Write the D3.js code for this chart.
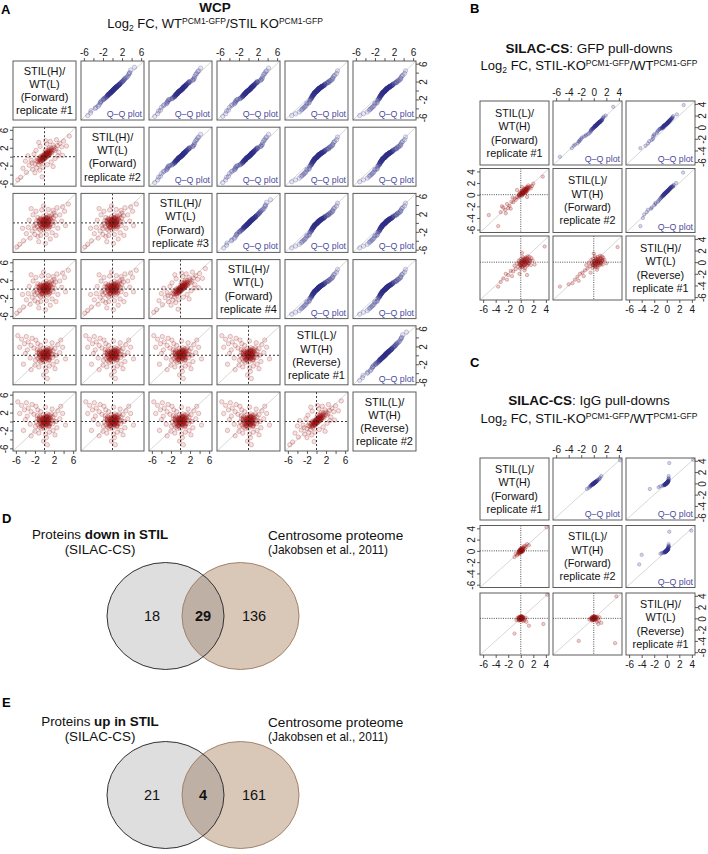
<!DOCTYPE html>
<html>
<head>
<meta charset="utf-8">
<script src="https://cdn.jsdelivr.net/npm/d3@7"></script>
<style>
  body { margin: 0; background: #fff; }
  svg { display: block; }
  text { font-family: "Liberation Sans", Arial, Helvetica, sans-serif; }
</style>
</head>
<body>
<svg id="fig" width="708" height="854"></svg>
<script>
// ---- panel A (WCP) ----
const wcpLabels = [
  ["STIL(H)/", "WT(L)", "(Forward)", "replicate #1"],
  ["STIL(H)/", "WT(L)", "(Forward)", "replicate #2"],
  ["STIL(H)/", "WT(L)", "(Forward)", "replicate #3"],
  ["STIL(H)/", "WT(L)", "(Forward)", "replicate #4"],
  ["STIL(L)/", "WT(H)", "(Reverse)", "replicate #1"],
  ["STIL(L)/", "WT(H)", "(Reverse)", "replicate #2"]
];
const wcpTicks = [-6, -4, -2, 0, 2, 4, 6];
const wcpTickLabels = [-6, -2, 2, 6];

// log2 FC read off the scatter clouds (x = column replicate, y = row replicate)
// dense centre of the clouds
const wcpCoreRound = [
  [0.1,0.2],[-0.3,-0.1],[0.5,0.3],[-0.6,0.4],[0.2,-0.5],[0.8,-0.1],[-0.1,0.7],[-0.8,-0.6],[0.4,0.9],[0.9,0.5],
  [-0.4,-0.8],[0.0,-0.2],[0.6,-0.7],[-0.9,0.1],[0.3,0.0],[-0.2,0.4],[1.1,0.2],[-0.5,-0.3],[0.7,1.0],[0.0,0.9],
  [-1.0,-0.3],[0.2,0.6],[0.5,-0.3],[-0.7,0.8],[1.0,-0.5],[-0.2,-1.0],[0.4,0.4],[-0.4,0.1],[0.8,0.8],[0.1,-0.8],
  [-0.6,-1.0],[1.2,0.7],[-1.1,0.5],[0.6,0.1],[-0.1,-0.5],[0.3,1.2],[0.9,-0.9],[-0.3,0.6],[0.0,0.4],[0.7,-0.4]
];
const wcpCoreDiag = [
  [0.1,0.2],[-0.3,-0.4],[0.5,0.6],[-0.6,-0.3],[0.2,-0.1],[0.8,0.9],[-0.1,0.3],[-0.8,-0.9],[0.4,0.8],[0.9,0.6],
  [-0.4,-0.7],[0.0,-0.2],[0.6,0.2],[-0.9,-0.5],[0.3,0.3],[-0.2,0.1],[1.1,1.2],[-0.5,-0.1],[0.7,1.0],[0.0,0.5],
  [-1.0,-1.1],[0.2,0.6],[0.5,0.1],[-0.7,-0.2],[1.0,0.7],[-0.2,-0.6],[0.4,0.4],[-0.4,0.0],[0.8,0.5],[0.1,-0.4],
  [-0.6,-0.8],[1.3,1.0],[-1.2,-0.7],[0.6,0.7],[-0.1,-0.2],[1.4,1.5],[0.9,1.3],[-0.3,-0.1],[0.0,0.1],[1.2,0.9]
];
const wcpTight = wcpCoreDiag.concat([
  [-0.5,-0.3],[0.2,0.4],[0.8,0.9],[-1.0,-0.6],[1.3,1.5],[0.5,0.1],[-0.2,0.3],[1.6,1.2],[-1.4,-1.1],[0.0,-0.4],
  [0.9,1.6],[2.0,2.1],[-0.8,-1.4],[0.4,0.8],[1.1,0.6],[-0.3,-0.9],[-1.7,-0.9],[2.4,1.8],[0.6,1.3],[-0.6,0.2],
  [1.8,2.6],[-1.2,-1.8],[0.1,1.0],[1.5,0.8],[-0.1,-0.1],[0.7,0.4],[-0.9,0.0],[2.2,1.4],[1.0,2.0],[-2.0,-1.6],
  [0.3,-0.2],[1.4,1.9],[-0.4,-0.6],[0.8,0.2],[-1.5,-0.4],[2.7,2.5],[0.2,1.5],[-0.7,-1.0],[1.9,1.6],[0.5,0.6],
  [-2.5,-2.8],[-3.2,-1.9],[-3.8,-3.5],[-4.5,-2.6],[-5.0,-4.6],[-2.8,-0.8],[-2.2,0.6],[-1.8,1.4],[-3.5,0.2],[-0.9,2.3],
  [-1.2,3.2],[0.2,3.6],[0.5,2.8],[1.2,3.4],[2.5,3.8],[3.2,3.0],[3.6,2.2],[4.0,3.5],[3.0,1.0],[2.2,-0.4],
  [1.4,-1.2],[0.6,-1.8],[-0.3,-2.4],[-1.0,-3.0],[-2.0,-3.6],[-0.5,-4.5],[1.8,-2.2],[3.8,0.3],[4.6,2.4],[-4.0,-1.0],
  [-5.6,-5.2],[-1.6,-2.5],[2.8,0.2],[-2.6,-1.4],[5.2,4.6]
]);
const wcpLoose = wcpCoreRound.concat([
  [-0.3,0.1],[0.4,-0.2],[0.9,0.6],[-0.8,-0.5],[0.1,0.8],[-1.2,0.3],[1.3,-0.3],[0.6,1.2],[-0.5,-1.1],[0.0,0.0],
  [1.0,1.5],[-1.5,-0.8],[0.3,-0.9],[-0.9,1.0],[1.6,0.4],[-0.2,1.4],[0.7,-0.6],[-1.8,-0.2],[1.9,1.1],[-0.6,0.6],
  [0.2,0.3],[1.2,0.9],[-1.1,-1.4],[0.5,0.5],[-0.4,-0.4],[0.8,-1.3],[-1.4,1.2],[1.5,1.8],[-0.1,-1.6],[2.1,0.2],
  [-2.0,-1.2],[0.4,1.8],[1.1,-0.9],[-0.7,-0.1],[0.6,0.0],[-1.0,0.7],[1.8,-0.6],[-0.3,0.9],[0.9,0.2],[-1.6,0.5],
  [0.0,-0.6],[1.4,1.3],[-0.8,-1.7],[2.3,1.6],[0.3,1.1],
  [-2.6,-1.8],[-3.0,-3.4],[-3.8,-2.4],[-4.4,-4.0],[-5.2,-4.8],[-2.4,1.8],[-3.2,0.6],[-1.8,2.6],[-0.6,2.9],[0.8,3.0],
  [1.8,2.8],[2.6,3.4],[3.2,1.8],[3.6,0.4],[2.8,-1.2],[1.6,-2.2],[0.4,-2.6],[-0.8,-2.8],[-2.0,-2.6],[-1.2,-4.2],
  [0.2,-4.6],[4.2,2.6],[-4.6,-1.2],[-3.4,-1.0],[2.4,-2.8],[3.8,3.6],[-2.8,3.2],[5.0,4.2],[-0.2,3.8],[-5.8,-5.4],
  [1.2,-3.6],[4.4,-0.6],[-1.4,-3.0],[2.0,2.2],[-2.2,-0.6]
]);
const wcpRev = wcpCoreRound.concat([
  [-0.2,0.2],[0.5,-0.1],[0.8,0.7],[-0.7,-0.4],[0.2,0.9],[-1.1,0.4],[1.2,-0.4],[0.5,1.1],[-0.4,-1.0],[0.1,0.0],
  [0.9,1.4],[-1.4,-0.7],[0.4,-0.8],[-1.0,1.1],[1.5,0.3],[-0.3,1.5],[0.6,-0.5],[-1.7,-0.1],[1.8,1.0],[-0.5,0.5],
  [0.3,0.4],[1.1,0.8],[-1.0,-1.3],[0.6,0.4],[-0.3,-0.5],[0.9,-1.2],[-1.5,1.3],[1.4,1.7],[0.0,-1.5],[2.0,0.1],
  [-1.9,-1.1],[0.5,1.7],[1.0,-1.0],[-0.6,0.0],[0.7,0.1],[-1.1,0.8],[1.7,-0.5],[-0.2,1.0],[0.8,0.3],[-1.5,0.6],
  [0.1,-0.5],[1.3,1.2],[-0.7,-1.6],[2.2,1.5],[0.4,1.2],
  [-2.8,2.2],[-3.4,3.0],[-4.2,2.6],[-4.8,3.6],[-3.6,1.2],[-5.2,1.8],[-2.6,3.8],[-4.0,0.4],[-3.0,-0.6],[-5.6,4.4],
  [-2.2,1.6],[-3.8,4.2],[0.2,-2.8],[0.4,-3.6],[-0.2,-4.4],[0.6,-5.2],[1.8,-2.0],[2.6,-1.4],[3.2,0.6],[2.8,2.4],
  [1.6,2.8],[0.2,3.2],[-1.4,2.6],[-2.0,-2.2],[-2.8,-3.2],[-1.2,-2.6],[3.8,1.8],[4.4,-0.8],[2.2,-3.0],[-1.8,3.4],
  [1.0,-2.4],[-4.4,-2.0],[3.4,3.4],[-0.8,2.2],[2.4,0.0]
]);
// which cloud sits in each lower panel: [row, col, cloud]
const wcpPanels = [
  [1, 0, wcpTight],
  [2, 0, wcpLoose], [2, 1, wcpLoose],
  [3, 0, wcpLoose], [3, 1, wcpLoose], [3, 2, wcpTight],
  [4, 0, wcpRev], [4, 1, wcpRev], [4, 2, wcpRev], [4, 3, wcpRev],
  [5, 0, wcpRev], [5, 1, wcpRev], [5, 2, wcpRev], [5, 3, wcpRev], [5, 4, wcpTight]
];

// ---- panels B and C (SILAC-CS) ----
const silacTicks = [-6, -4, -2, 0, 2, 4];
const gfpLabels = [
  ["STIL(L)/", "WT(H)", "(Forward)", "replicate #1"],
  ["STIL(L)/", "WT(H)", "(Forward)", "replicate #2"],
  ["STIL(H)/", "WT(L)", "(Reverse)", "replicate #1"]
];
const iggLabels = gfpLabels;

const gfpCoreDiag = [
  [0.3,0.4],[0.6,0.6],[0.1,0.0],[0.9,0.8],[0.4,0.2],[0.7,0.9],[0.2,0.3],[1.0,1.1],[-0.1,-0.2],[0.5,0.5],
  [0.8,0.6],[0.3,0.1],[1.2,0.9],[0.0,0.2],[0.6,0.9],[0.4,0.6],[0.9,1.0],[-0.3,-0.2],[0.7,0.4],[0.2,0.5],
  [1.1,1.3],[0.5,0.3],[-0.2,0.0],[0.8,1.1],[0.3,0.6]
];
const gfpCoreFlat = [
  [0.4,0.2],[0.7,0.0],[0.2,-0.2],[1.0,0.3],[0.5,-0.4],[0.8,0.5],[0.1,0.1],[1.2,-0.1],[0.3,0.4],[0.6,-0.6],
  [0.9,0.1],[0.0,-0.3],[1.4,0.4],[0.4,-0.1],[0.7,0.6],[-0.2,0.0],[1.1,-0.4],[0.5,0.1],[0.2,-0.6],[0.8,-0.2],
  [1.3,0.2],[0.6,0.3],[-0.1,-0.5],[1.0,0.7],[0.3,-0.8]
];
const gfp21 = gfpCoreDiag.concat([
  [0.2,0.3],[0.5,0.4],[0.8,0.9],[1.1,1.0],[-0.2,-0.1],[0.0,0.2],[0.4,0.7],[1.3,1.2],[-0.4,-0.5],[0.7,0.5],
  [0.9,1.3],[-0.6,-0.4],[0.3,0.0],[1.5,1.4],[0.6,0.8],[-0.1,0.4],[1.0,0.6],[-0.8,-0.9],[0.2,-0.2],[1.2,1.6],
  [-1.0,-0.7],[0.5,1.0],[0.8,0.3],[-0.3,0.1],[1.6,1.1],[0.1,0.6],[-1.2,-1.3],[0.4,0.2],[1.8,1.5],[0.9,0.7],
  [-1.5,-1.2],[-1.8,-1.9],[-2.2,-1.6],[-2.5,-2.6],[-2.0,-2.3],[-2.8,-2.2],[-3.2,-3.0],[-1.6,-2.4],[-3.6,-5.4],[-5.1,-3.5],
  [-2.4,-3.2],[-3.0,-2.0],[1.0,-0.4],[-0.6,0.8],[3.5,3.1],[2.0,1.9],[-1.3,-0.5],[0.2,1.3]
]);
const gfp31 = gfpCoreFlat.concat([
  [0.2,0.1],[0.6,0.4],[0.9,0.0],[1.2,0.5],[-0.2,-0.3],[0.4,-0.5],[0.8,0.8],[1.5,0.2],[0.0,0.5],[-0.4,-0.8],
  [1.0,-0.6],[0.3,0.9],[1.7,0.7],[-0.1,-1.1],[0.7,-1.0],[1.3,-0.2],[0.5,0.0],[-0.6,-0.2],[1.1,1.0],[0.2,-0.8],
  [1.9,0.3],[0.8,-0.3],[-0.3,0.3],[1.4,0.9],[0.6,-1.4],[0.0,-0.6],[1.6,-0.5],[0.4,0.6],
  [-0.8,-1.2],[-1.2,-1.6],[-1.6,-1.5],[-2.0,-2.2],[-1.4,-2.4],[-2.4,-2.0],[-2.8,-2.8],[-3.6,-4.2],[-3.2,-3.4],[-1.0,-0.6],
  [-2.2,-3.0],[0.2,1.6],[3.8,2.7],[2.2,-0.4],[-0.2,-2.0],[1.0,-2.2]
]);
const gfp32 = gfpCoreFlat.concat([
  [0.1,0.2],[0.5,0.5],[0.8,0.1],[1.2,0.6],[-0.3,-0.2],[0.3,-0.4],[0.7,0.9],[1.4,0.3],[-0.1,0.6],[-0.6,-0.7],
  [0.9,-0.5],[0.2,1.0],[1.5,0.8],[-0.2,-1.0],[0.6,-0.9],[1.1,-0.1],[0.4,0.1],[-0.8,-0.1],[1.0,1.1],[0.1,-0.7],
  [1.7,0.4],[0.7,-0.2],[-0.4,0.4],[1.3,1.0],[0.5,-1.3],[-0.1,-0.5],[1.4,-0.4],[0.3,0.7],
  [-1.0,-1.1],[-1.4,-1.4],[-1.8,-1.8],[-2.2,-2.0],[-1.6,-2.4],[-2.6,-2.5],[-3.0,-3.0],[-5.4,-4.2],[-3.4,-3.6],[-1.2,-0.5],
  [-2.4,-3.2],[-4.0,-3.8],[3.8,2.6],[2.0,-0.2],[-0.5,-1.8],[0.0,1.5]
]);
const iggCore = [
  [0.0,0.1],[0.1,-0.1],[-0.1,0.0],[0.2,0.1],[-0.2,-0.2],[0.1,0.2],[0.0,-0.2],[-0.1,0.2],[0.2,-0.1],[0.3,0.2],
  [-0.3,0.0],[0.1,0.0],[0.0,0.3],[-0.2,0.1],[0.2,0.3],[0.3,-0.1],[-0.1,-0.1],[0.1,0.4],[0.0,0.0],[-0.2,-0.3]
];
const igg21 = iggCore.concat([
  [0.0,0.0],[0.2,0.3],[-0.2,-0.1],[0.4,0.5],[-0.3,-0.4],[0.1,-0.2],[0.3,0.1],[-0.1,0.2],[0.5,0.8],[-0.4,-0.2],
  [0.2,0.6],[0.6,0.4],[-0.5,-0.6],[0.0,0.4],[0.3,-0.1],[-0.2,-0.5],[0.7,0.9],[0.1,0.1],[-0.6,-0.8],[0.4,0.2],
  [1.0,1.2],[0.8,0.6],[-0.1,-0.3],[1.3,1.0],[-0.8,-0.5],[-1.0,-1.1],[4.1,4.2]
]);
const igg31 = iggCore.concat([
  [0.0,0.0],[0.2,0.2],[-0.2,-0.1],[0.3,-0.2],[-0.3,0.2],[0.1,0.3],[-0.1,-0.3],[0.4,0.1],[-0.4,-0.2],[0.2,-0.3],
  [0.0,0.2],[-0.2,0.3],[0.3,0.3],[0.5,0.0],[-0.5,0.1],[0.1,-0.1],[-0.1,0.1],[0.6,-0.3],[0.4,-0.5],[-0.3,-0.4],
  [0.8,0.1],[1.3,-1.3],[3.6,-1.0],[0.9,-0.6],[-0.7,-0.3],[-1.0,-2.7],[4.2,4.2]
]);
const igg32 = iggCore.concat([
  [0.0,0.0],[0.2,0.1],[-0.2,-0.1],[0.3,-0.2],[-0.3,0.2],[0.1,0.3],[-0.1,-0.3],[0.4,0.2],[-0.4,-0.1],[0.2,-0.3],
  [0.0,0.2],[-0.2,0.3],[0.5,0.3],[0.6,0.0],[-0.5,0.0],[0.1,-0.1],[-0.1,0.1],[0.8,-0.4],[0.5,-0.6],[-0.3,-0.4],
  [0.9,0.2],[1.2,-0.8],[3.4,-4.4],[0.7,-1.0],[-0.7,-0.2],[-2.4,-4.0],[3.6,3.9]
]);
const gfpPanels = [[1, 0, gfp21], [2, 0, gfp31], [2, 1, gfp32]];
const iggPanels = [[1, 0, igg21], [2, 0, igg31], [2, 1, igg32]];

// ---- panels D and E (Venn) ----
const downCounts = [18, 29, 136];
const upCounts = [21, 4, 161];
const refSetLabel = ["Centrosome proteome", "(Jakobsen et al., 2011)"];

const svg = d3.select("#fig");

function rotateLabels(g, dx) {
  g.selectAll(".tick text")
    .attr("x", 0).attr("y", 0).attr("dy", 0)
    .attr("text-anchor", "middle")
    .attr("transform", `translate(${dx},0) rotate(-90)`);
}

function styleAxis(g, size) {
  g.select(".domain").remove();
  g.attr("font-family", null).attr("font-size", size);
  g.selectAll(".tick line").attr("stroke", "#333").attr("stroke-width", 0.8);
  g.selectAll(".tick text").attr("fill", "#1a1a1a");
}

function drawMatrix(cfg) {
  const n = cfg.labels.length;
  const x = d3.scaleLinear().domain(cfg.domain).range([0, cfg.cw]);
  const y = d3.scaleLinear().domain(cfg.domain).range([cfg.ch, 0]);
  const fmt = d => cfg.shown.includes(d) ? String(d) : "";
  const lookup = (r, c) => cfg.panels.find(p => p[0] === r && p[1] === c)[2];
  const root = svg.append("g").attr("transform", `translate(${cfg.left},${cfg.top})`);

  for (let r = 0; r < n; r++) {
    for (let c = 0; c < n; c++) {
      const cell = root.append("g")
        .attr("transform", `translate(${c * cfg.stepX},${r * cfg.stepY})`);

      if (r === c) {
        cell.selectAll("text").data(cfg.labels[r]).join("text")
          .attr("x", cfg.cw / 2)
          .attr("y", (d, i) => cfg.ch / 2 + (i - 1.5) * cfg.lineGap + cfg.labelSize * 0.36)
          .attr("text-anchor", "middle")
          .attr("font-size", cfg.labelSize)
          .attr("fill", "#111")
          .text(d => d);
      } else {
        const qq = r < c;
        let pts;
        if (!qq) {
          pts = lookup(r, c);
        } else {
          // Q-Q plot of the mirrored pair
          const src = lookup(c, r);
          const xs = src.map(p => p[1]).sort(d3.ascending);
          const ys = src.map(p => p[0]).sort(d3.ascending);
          pts = xs.map((v, i) => [v, ys[i]]);
        }

        cell.append("line")
          .attr("x1", x(cfg.domain[0])).attr("y1", y(cfg.domain[0]))
          .attr("x2", x(cfg.domain[1])).attr("y2", y(cfg.domain[1]))
          .attr("stroke", "#c6c6c6").attr("stroke-width", 0.7);

        const col = qq ? "#34348a" : "#9c1414";
        cell.append("g").selectAll("circle").data(pts).join("circle")
          .attr("cx", d => x(d[0]))
          .attr("cy", d => y(d[1]))
          .attr("r", cfg.r)
          .attr("fill", col).attr("fill-opacity", cfg.fillOp)
          .attr("stroke", col).attr("stroke-opacity", cfg.strokeOp)
          .attr("stroke-width", 0.6);

        if (!qq) {
          cell.append("line")
            .attr("x1", x(0)).attr("x2", x(0)).attr("y1", 0).attr("y2", cfg.ch)
            .attr("stroke", "#222").attr("stroke-width", cfg.dashW).attr("stroke-dasharray", cfg.dash);
          cell.append("line")
            .attr("y1", y(0)).attr("y2", y(0)).attr("x1", 0).attr("x2", cfg.cw)
            .attr("stroke", "#222").attr("stroke-width", cfg.dashW).attr("stroke-dasharray", cfg.dash);
        } else {
          cell.append("text")
            .attr("x", cfg.cw - 2).attr("y", cfg.ch - 3)
            .attr("text-anchor", "end")
            .attr("font-size", 8.8)
            .attr("fill", "#4b4b9e")
            .text("Q\u2013Q plot");
        }
      }

      cell.append("rect")
        .attr("width", cfg.cw).attr("height", cfg.ch)
        .attr("fill", "none").attr("stroke", "#5c5c5c").attr("stroke-width", 1);

      // R pairs() style alternating axes
      if (r === 0 && c % 2 === 1) {
        cell.append("g")
          .call(d3.axisTop(x).tickValues(cfg.ticks).tickFormat(fmt).tickSize(3).tickSizeOuter(0).tickPadding(2))
          .call(g => styleAxis(g, cfg.tickFont));
      }
      if (r === n - 1 && c % 2 === 0) {
        cell.append("g").attr("transform", `translate(0,${cfg.ch})`)
          .call(d3.axisBottom(x).tickValues(cfg.ticks).tickFormat(fmt).tickSize(3).tickSizeOuter(0).tickPadding(3))
          .call(g => styleAxis(g, cfg.tickFont));
      }
      if (c === 0 && r % 2 === 1) {
        cell.append("g")
          .call(d3.axisLeft(y).tickValues(cfg.ticks).tickFormat(fmt).tickSize(3).tickSizeOuter(0))
          .call(g => styleAxis(g, cfg.tickFont))
          .call(g => rotateLabels(g, -5));
      }
      if (c === n - 1 && r % 2 === 0) {
        cell.append("g").attr("transform", `translate(${cfg.cw},0)`)
          .call(d3.axisRight(y).tickValues(cfg.ticks).tickFormat(fmt).tickSize(3).tickSizeOuter(0))
          .call(g => styleAxis(g, cfg.tickFont))
          .call(g => rotateLabels(g, 11));
      }
    }
  }
}

// log2 FC title with sub/superscripts
function logTitle(x, y, parts) {
  const t = svg.append("text").attr("x", x).attr("y", y)
    .attr("text-anchor", "middle").attr("font-size", 13).attr("fill", "#111");
  t.append("tspan").text("Log");
  t.append("tspan").attr("dy", 3).attr("font-size", 8.5).text("2");
  t.append("tspan").attr("dy", -3).text(parts[0]);
  t.append("tspan").attr("dy", -4.5).attr("font-size", 8.5).text("PCM1-GFP");
  t.append("tspan").attr("dy", 4.5).text(parts[1]);
  t.append("tspan").attr("dy", -4.5).attr("font-size", 8.5).text("PCM1-GFP");
}

function panelLetter(letter, x, y) {
  svg.append("text").attr("x", x).attr("y", y)
    .attr("font-size", 13).attr("font-weight", "bold").attr("fill", "#000").text(letter);
}

function silacTitle(y, rest) {
  const t = svg.append("text").attr("x", 589).attr("y", y)
    .attr("text-anchor", "middle").attr("font-size", 13.5).attr("fill", "#111");
  t.append("tspan").attr("font-weight", "bold").text("SILAC-CS");
  t.append("tspan").text(rest);
}

// ---- A ----
panelLetter("A", 1, 14);
svg.append("text").attr("x", 215).attr("y", 12).attr("text-anchor", "middle")
  .attr("font-size", 13.5).attr("font-weight", "bold").attr("fill", "#111").text("WCP");
logTitle(215, 28, [" FC, WT", "/STIL KO"]);
drawMatrix({
  labels: wcpLabels, panels: wcpPanels,
  left: 13, top: 61, cw: 63, ch: 59, stepX: 68, stepY: 66.2,
  domain: [-6.6, 6.6], ticks: wcpTicks, shown: wcpTickLabels, tickFont: 10,
  labelSize: 11, lineGap: 13.3,
  r: 2.2, fillOp: 0.12, strokeOp: 0.4, dash: "2,2", dashW: 0.9
});

// ---- B ----
panelLetter("B", 470, 13);
silacTitle(53, ": GFP pull-downs");
logTitle(589, 70, [" FC, STIL-KO", "/WT"]);
drawMatrix({
  labels: gfpLabels, panels: gfpPanels,
  left: 480, top: 101, cw: 69, ch: 64, stepX: 73, stepY: 67.5,
  domain: [-6.5, 4.5], ticks: silacTicks, shown: silacTicks, tickFont: 10,
  labelSize: 10.8, lineGap: 13.3,
  r: 1.7, fillOp: 0.2, strokeOp: 0.45, dash: "1,1.3", dashW: 0.8
});

// ---- C ----
panelLetter("C", 470, 367);
silacTitle(405, ": IgG pull-downs");
logTitle(589, 423, [" FC, STIL-KO", "/WT"]);
drawMatrix({
  labels: iggLabels, panels: iggPanels,
  left: 480, top: 458, cw: 69, ch: 62, stepX: 73, stepY: 67.5,
  domain: [-6.5, 4.5], ticks: silacTicks, shown: silacTicks, tickFont: 10,
  labelSize: 10.8, lineGap: 13.3,
  r: 1.7, fillOp: 0.2, strokeOp: 0.45, dash: "1,1.3", dashW: 0.8
});

// ---- D / E Venn diagrams ----
function drawVenn(id, letter, letterY, boldPart, titleY, cy, counts) {
  panelLetter(letter, 2, letterY);
  const rx = 58.5, ry = 53.5, cxL = 165.5, cxR = 240.5;
  const g = svg.append("g");

  const t = g.append("text").attr("x", 100).attr("y", titleY)
    .attr("text-anchor", "middle").attr("font-size", 13.4).attr("fill", "#111");
  t.append("tspan").text("Proteins ");
  t.append("tspan").attr("font-weight", "bold").text(boldPart);
  g.append("text").attr("x", 100).attr("y", titleY + 15)
    .attr("text-anchor", "middle").attr("font-size", 13.4).attr("fill", "#111").text("(SILAC-CS)");
  g.append("text").attr("x", 268).attr("y", titleY + 1)
    .attr("font-size", 13.6).attr("fill", "#111").text(refSetLabel[0]);
  g.append("text").attr("x", 268).attr("y", titleY + 15)
    .attr("font-size", 11.9).attr("fill", "#111").text(refSetLabel[1]);

  g.append("clipPath").attr("id", id)
    .append("ellipse").attr("cx", cxL).attr("cy", cy).attr("rx", rx).attr("ry", ry);

  g.append("ellipse").attr("cx", cxL).attr("cy", cy).attr("rx", rx).attr("ry", ry)
    .attr("fill", "#dedede");
  g.append("ellipse").attr("cx", cxR).attr("cy", cy).attr("rx", rx).attr("ry", ry)
    .attr("fill", "#d9c7b8");
  g.append("ellipse").attr("cx", cxR).attr("cy", cy).attr("rx", rx).attr("ry", ry)
    .attr("clip-path", `url(#${id})`).attr("fill", "#bfb0a5");
  g.append("ellipse").attr("cx", cxR).attr("cy", cy).attr("rx", rx).attr("ry", ry)
    .attr("fill", "none").attr("stroke", "#a3836a").attr("stroke-width", 1);
  g.append("ellipse").attr("cx", cxL).attr("cy", cy).attr("rx", rx).attr("ry", ry)
    .attr("fill", "none").attr("stroke", "#333").attr("stroke-width", 1);

  const pos = [cxL - 13.5, (cxL + cxR) / 2, cxR + 13.5];
  g.selectAll("text.count").data(counts).join("text")
    .attr("class", "count")
    .attr("x", (d, i) => pos[i]).attr("y", cy + 5)
    .attr("text-anchor", "middle").attr("font-size", 14.5)
    .attr("font-weight", (d, i) => i === 1 ? "bold" : "normal")
    .attr("fill", "#111")
    .text(d => d);
}

drawVenn("clipD", "D", 523, "down in STIL", 539, 616, downCounts);
drawVenn("clipE", "E", 707, "up in STIL", 726, 795, upCounts);
</script>
</body>
</html>
